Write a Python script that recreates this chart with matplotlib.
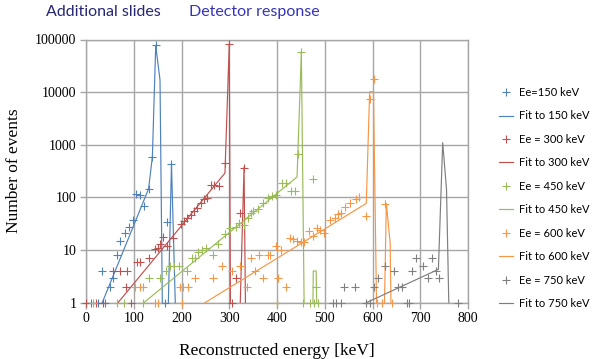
import matplotlib
matplotlib.use("Agg")
import matplotlib.pyplot as plt
from matplotlib.ticker import FixedLocator, NullLocator

# ---------------- data ----------------
# Ee = 150 keV
m150_E = [10, 25, 40, 165, 34, 51, 56, 65, 72, 81, 90, 99, 104, 113, 121, 131, 139, 146, 170, 179]
m150_N = [1, 1, 1, 1, 4, 2, 3, 8, 15, 21, 28, 38, 115, 110, 68, 145, 590, 77000, 34, 440]
f150_E = [34, 131, 139, 146, 155, 161, 170, 179, 190]
f150_N = [1, 145, 590, 77000, 17000, 0.1, 0.1, 440, 0.1]

# Ee = 300 keV
m300_E = [0, 20, 35, 95, 305, 83, 57, 71, 85, 107, 114, 131, 145, 150, 156, 162, 170, 183,
          198, 205, 212, 219, 226, 233, 240, 247, 253, 261, 269, 279, 291, 300, 315, 322, 331]
m300_N = [1, 1, 1, 1, 1, 2, 4, 4, 4, 6, 6, 7, 10.6, 11, 13, 18, 12, 17,
          31, 36, 41, 47, 55, 63, 79, 94, 98, 169, 169, 164, 455, 81000, 3, 51, 365]
f300_E = [67, 291, 300, 303, 320, 331, 335]
f300_N = [1, 290, 82000, 0.1, 0.1, 380, 0.1]

# Ee = 450 keV
m450_E = [15, 65, 80, 120, 400, 455, 470, 478, 486,
          131, 154, 167, 176, 185, 195, 211, 221, 228, 235, 243, 252, 267, 277, 291, 301,
          315, 321, 330, 339, 345, 350, 360, 371, 381, 389, 398, 411, 418, 430, 437, 443,
          450, 475, 482]
m450_N = [1, 1, 1, 1, 1, 1, 1, 1, 1,
          3, 3, 4, 5, 5, 5, 4, 7, 7, 9, 10, 11, 8, 13, 20, 26,
          28, 32, 30, 40, 51, 55, 59, 79, 98, 106, 110, 190, 190, 132, 132, 660,
          58000, 220, 2]
f450_E = [121, 442, 451, 458, 474, 476, 482, 485]
f450_N = [1, 245, 58000, 0.1, 0.1, 4, 4, 0.1]

# Ee = 600 keV
m600_E = [145, 150, 200, 400, 610, 620, 640,
          102, 113, 120, 197, 204, 214, 228, 266, 284, 305, 322, 337, 346, 353, 363, 371,
          382, 386, 397, 402, 409, 419, 427, 433, 442, 451, 456, 467, 476, 484, 490, 498,
          511, 521, 527, 533, 542, 553, 565, 572, 586, 594, 603, 627]
m600_N = [1, 1, 1, 1, 1, 1, 1,
          2, 2, 2, 2, 2, 2, 3, 3, 5, 4, 5, 2, 7, 4, 8, 3,
          8, 8, 12, 3, 10, 2, 17, 16, 15, 14, 14, 23, 18.5, 26, 24, 21.5,
          38, 41, 48, 50, 66, 79, 92, 103, 45, 7400, 17500, 74]
f600_E = [249, 587, 594, 602, 610, 623, 629, 637, 640]
f600_N = [1, 77, 10200, 10200, 0.1, 0.1, 77, 13.5, 0.1]

# Ee = 750 keV
m750_E = [517, 524, 533, 587, 594, 672, 677, 780,
          540, 563, 603, 612, 627, 644, 653, 661, 683, 692, 706, 716, 725, 732, 740]
m750_N = [1, 1, 1, 1, 1, 1, 1, 1,
          2, 2, 2, 3, 5, 4, 2, 2, 4, 7, 5, 3, 7, 4, 3]
f750_E = [587, 738, 747, 755, 762]
f750_N = [1, 4.3, 1100, 142, 0.1]

marker_labels = ["Ee=150 keV", "Ee = 300 keV", "Ee = 450 keV", "Ee = 600 keV", "Ee = 750 keV"]
fit_labels = ["Fit to 150 keV", "Fit to 300 keV", "Fit to 450 keV", "Fit to 600 keV", "Fit to 750 keV"]
colors = ["#4F81BD", "#C0504D", "#9BBB59", "#F79646", "#7F7F7F"]

x_ticks = [0, 100, 200, 300, 400, 500, 600, 700, 800]
y_ticks = [1, 10, 100, 1000, 10000, 100000]
y_tick_labels = ["1", "10", "100", "1000", "10000", "100000"]

markers = [(m150_E, m150_N), (m300_E, m300_N), (m450_E, m450_N), (m600_E, m600_N), (m750_E, m750_N)]
fits = [(f150_E, f150_N), (f300_E, f300_N), (f450_E, f450_N), (f600_E, f600_N), (f750_E, f750_N)]

# ---------------- figure ----------------
fig = plt.figure(figsize=(6.05, 3.59), dpi=100)
ax = fig.add_axes([86 / 605, (359 - 302.7) / 359, 382 / 605, 263.2 / 359])

grid_c = "#A6A6A6"
handles = []
for (mE, mN), (fE, fN), c, ml, fl in zip(markers, fits, colors, marker_labels, fit_labels):
    h1, = ax.plot(mE, mN, linestyle="none", marker="+", markersize=6, mew=0.8,
                  color=c, label=ml, clip_on=False, zorder=4)
    h2, = ax.plot(fE, fN, linestyle="-", lw=0.85, color=c, label=fl, zorder=3)
    handles += [h1, h2]

ax.set_yscale("log")
ax.set_xlim(0, 800)
ax.set_ylim(1, 100000)
ax.xaxis.set_major_locator(FixedLocator(x_ticks))
ax.yaxis.set_major_locator(FixedLocator(y_ticks))
ax.yaxis.set_minor_locator(NullLocator())
ax.set_yticklabels(y_tick_labels)
ax.grid(True, color=grid_c, lw=1.0, zorder=0)
ax.set_axisbelow(True)
for s in ax.spines.values():
    s.set_color(grid_c)
    s.set_linewidth(1.0)
ax.tick_params(axis="both", which="major", direction="out", length=4, width=1,
               color=grid_c, labelsize=10, pad=3)
for lab in ax.get_xticklabels() + ax.get_yticklabels():
    lab.set_fontfamily("Liberation Serif")

ax.set_xlabel("Reconstructed energy [keV]", fontfamily="Liberation Serif", fontsize=12.5, labelpad=13)
ax.set_ylabel("Number of events", fontfamily="Liberation Serif", fontsize=12.5, labelpad=9)

leg = fig.legend(handles=handles, loc="center left", bbox_to_anchor=(493 / 605, 1 - 198 / 359),
                 frameon=False, prop={"family": "Lato", "size": 8},
                 handlelength=1.3, handletextpad=0.5, labelspacing=1.12, borderpad=0)

fig.text(46 / 605, 1 - 12 / 359, "Additional slides", fontfamily="Lato", fontsize=11.5,
         color="#262673", va="center", ha="left")
fig.text(189 / 605, 1 - 12 / 359, "Detector response", fontfamily="Lato", fontsize=11.5,
         color="#3535B5", va="center", ha="left")

fig.savefig("out.png", dpi=100)
